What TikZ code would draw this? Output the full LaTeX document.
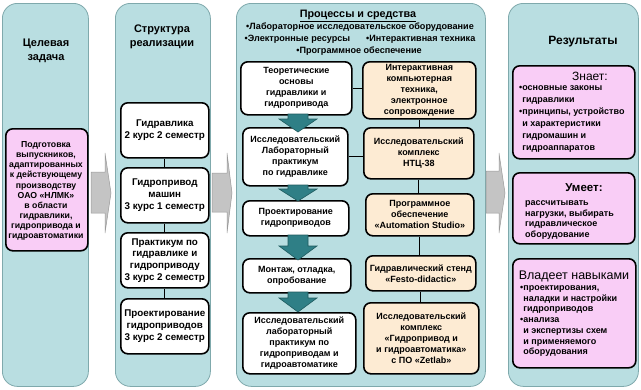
\documentclass[tikz,border=0pt]{standalone}
\usepackage{fontspec}
\setmainfont{Liberation Sans}
\usetikzlibrary{calc}
\definecolor{panelfill}{HTML}{B9DEE1}
\definecolor{paneldraw}{HTML}{7FA9AC}
\definecolor{pinkfill}{HTML}{F9CDF6}
\definecolor{creamfill}{HTML}{FDEBD3}
\definecolor{grayarrow}{HTML}{C4C4C4}
\definecolor{grayarrowdraw}{HTML}{9A9A9A}
\definecolor{tealarrow}{HTML}{2F7F86}
\definecolor{tealarrowdraw}{HTML}{1E5A5E}
\tikzset{
  panel/.style={draw=paneldraw, line width=0.8pt, fill=panelfill, rounded corners=15pt, anchor=north west, inner sep=0pt},
  box/.style={draw=black, line width=1.6pt, rounded corners=7pt, fill=white, anchor=north west, align=center, inner sep=0pt},
  pinkbox/.style={box, fill=pinkfill},
  creambox/.style={box, fill=creamfill},
  ptitle/.style={font=\fontsize{11}{14}\selectfont\bfseries, align=center, inner sep=0pt},
  boxtxt/.style={font=\fontsize{9}{11}\selectfont\bfseries, align=center, inner sep=0pt},
  coltxt/.style={font=\fontsize{9.8}{11.7}\selectfont\bfseries, align=center, inner sep=0pt},
  pinktxt/.style={font=\fontsize{8.7}{10.1}\selectfont\bfseries, align=center, inner sep=0pt},
  listtxt/.style={font=\fontsize{9}{10.7}\selectfont\bfseries, align=left, inner sep=0pt, anchor=north west},
  restitle/.style={font=\fontsize{12}{14}\selectfont, inner sep=0pt},
  conn/.style={draw=black, line width=1pt},
  garrow/.style={fill=grayarrow, draw=grayarrowdraw, line width=0.5pt},
  tarrow/.style={fill=tealarrow, draw=tealarrowdraw, line width=0.6pt}
}
\newcommand{\bl}{\hphantom{•}}
\begin{document}
\begin{tikzpicture}[x=1pt,y=-1pt]
\useasboundingbox[fill=white] (0,0) rectangle (641,389);

% ---------- panels ----------
\node[panel, minimum width=86, minimum height=383] (P1) at (2,3) {};
\node[panel, minimum width=95, minimum height=383] (P2) at (115,3) {};
\node[panel, minimum width=249, minimum height=383] (P3) at (236,3) {};
\node[panel, minimum width=130, minimum height=383] (P4) at (508,3) {};

% ---------- gray block arrows ----------
\draw[garrow] (91,172) -- (105,172) -- (105,153) -- (111,193) -- (105,233) -- (105,213) -- (91,213) -- cycle;
\draw[garrow] (212,173) -- (227,173) -- (227,153) -- (232,193) -- (227,233) -- (227,212) -- (212,212) -- cycle;
\draw[garrow] (486,171) -- (499,171) -- (499,153) -- (505,193) -- (499,233) -- (499,213) -- (486,213) -- cycle;

% ---------- panel 1 ----------
\node[ptitle] (T1) at (46,51) {Целевая\\задача};
\node[pinkbox, minimum width=82, minimum height=122] (G) at (5,128) {};
\node[pinktxt] (Gt) at (46,191) {Подготовка\\выпускников,\\адаптированных\\к действующему\\производству\\ОАО «НЛМК»\\в области\\гидравлики,\\гидропривода и\\гидроавтоматики};

% ---------- panel 2 ----------
\node[ptitle] (T2) at (162,37) {Структура\\реализации};
\node[box, minimum width=88, minimum height=55, coltxt] (B1) at (120,102) {Гидравлика\\2 курс 2 семестр};
\node[box, minimum width=88, minimum height=55, coltxt] (B2) at (120,167) {Гидропривод\\машин\\3 курс 1 семестр};
\node[box, minimum width=88, minimum height=55, coltxt] (B3) at (120,232) {Практикум по\\гидравлике и\\гидроприводу\\3 курс 2 семестр};
\node[box, minimum width=88, minimum height=55, coltxt] (B4) at (120,298) {Проектирование\\гидроприводов\\3 курс 2 семестр};
\draw[conn] (B1.south) -- (B2.north);
\draw[conn] (B2.south) -- (B3.north);
\draw[conn] (B3.south) -- (B4.north);

% ---------- panel 3 ----------
\node[ptitle, font=\fontsize{10.8}{13}\selectfont\bfseries] (T3) at (358,16) {\underline{Процессы и средства}};
\node[boxtxt, font=\fontsize{9.1}{11}\selectfont\bfseries] (S1) at (360,27.5) {•Лабораторное исследовательское оборудование};
\node[boxtxt, font=\fontsize{9.1}{11}\selectfont\bfseries] (S2) at (360,39.5) {•Электронные ресурсы\hspace{16pt}•Интерактивная техника};
\node[boxtxt, font=\fontsize{9.1}{11}\selectfont\bfseries] (S3) at (359,51) {•Программное обеспечение};

\node[box, minimum width=111, minimum height=53, boxtxt] (L1) at (240,61) {Теоретические\\основы\\гидравлики и\\гидропривода};
\node[creambox, minimum width=113, minimum height=57, boxtxt] (R1) at (362,61) {Интерактивная\\компьютерная\\техника,\\электронное\\сопровождение};
\node[box, minimum width=105, minimum height=58, boxtxt] (L2) at (242,127) {Исследовательский\\Лабораторный\\практикум\\по гидравлике};
\node[creambox, minimum width=110, minimum height=51, boxtxt] (R2) at (363,127) {Исследовательский\\комплекс\\НТЦ-38};
\node[box, minimum width=106, minimum height=35, boxtxt] (L3) at (242,200) {Проектирование\\гидроприводов};
\node[creambox, minimum width=108, minimum height=42, boxtxt] (R3) at (365,193) {Программное\\обеспечение\\«Automation Studio»};
\node[box, minimum width=108, minimum height=34, boxtxt] (L4) at (242,258) {Монтаж, отладка,\\опробование};
\node[creambox, minimum width=110, minimum height=35, boxtxt] (R4) at (365,255) {Гидравлический стенд\\«Festo-didactic»};
\node[box, minimum width=113, minimum height=61, boxtxt] (L5) at (242,312) {Исследовательский\\лабораторный\\практикум по\\гидроприводам и\\гидроавтоматике};
\node[creambox, minimum width=115, minimum height=71, boxtxt] (R5) at (363,302) {Исследовательский\\комплекс\\«Гидропривод и\\и гидроавтоматика»\\с ПО «Zetlab»};

\draw[conn] (L1.east) -- (L1.east -| R1.west);
\draw[conn] (L2.east) -- (L2.east -| R2.west);
\draw[conn] ($(L4.north east)+(0,5)$) -- ($(L4.north east)+(0,5)$ -| R4.west);
\draw[conn] (R1.south) -- (R1.south |- R2.north);
\draw[conn] (R2.south) -- (R2.south |- R3.north);
\draw[conn] (R3.south) -- (R3.south |- R4.north);
\draw[conn] (R4.south) -- (R4.south |- R5.north);

% teal down arrows
\draw[tarrow] (288,114) -- (308,114) -- (308,119) -- (317,119) -- (298,132) -- (279,119) -- (288,119) -- cycle;
\draw[tarrow] (288,185) -- (308,185) -- (308,189) -- (317,189) -- (298,201) -- (279,189) -- (288,189) -- cycle;
\draw[tarrow] (288,235) -- (308,235) -- (308,246) -- (317,246) -- (298,260) -- (279,246) -- (288,246) -- cycle;
\draw[tarrow] (288,292) -- (308,292) -- (308,298) -- (317,298) -- (298,312) -- (279,298) -- (288,298) -- cycle;

% ---------- panel 4 ----------
\node[restitle, font=\fontsize{12}{14}\selectfont\bfseries] (T4) at (583,42) {Результаты};
\node[pinkbox, minimum width=122, minimum height=93] (K) at (512,65) {};
\node[restitle] (Kt) at (590,76) {Знает:};
\node[listtxt, font=\fontsize{9}{12.1}\selectfont\bfseries] (Kl) at (519,85) {•основные законы\\\bl гидравлики\\•принципы, устройство\\\bl и характеристики\\\bl гидромашин и\\\bl гидроаппаратов};
\node[pinkbox, minimum width=122, minimum height=71] (U) at (512,172) {};
\node[restitle, font=\fontsize{11.5}{14}\selectfont\bfseries] (Ut) at (584,188) {Умеет:};
\node[listtxt] (Ul) at (525,200.5) {рассчитывать\\нагрузки, выбирать\\гидравлическое\\оборудование};
\node[pinkbox, minimum width=123, minimum height=109] (V) at (512,258) {};
\node[restitle, font=\fontsize{12.5}{14}\selectfont] (Vt) at (574,276) {Владеет навыками};
\node[listtxt] (Vl) at (520,285.5) {•проектирования,\\\bl наладки и настройки\\\bl гидроприводов\\•анализа\\\bl и экспертизы схем\\\bl и применяемого\\\bl оборудования};
\end{tikzpicture}
\end{document}
